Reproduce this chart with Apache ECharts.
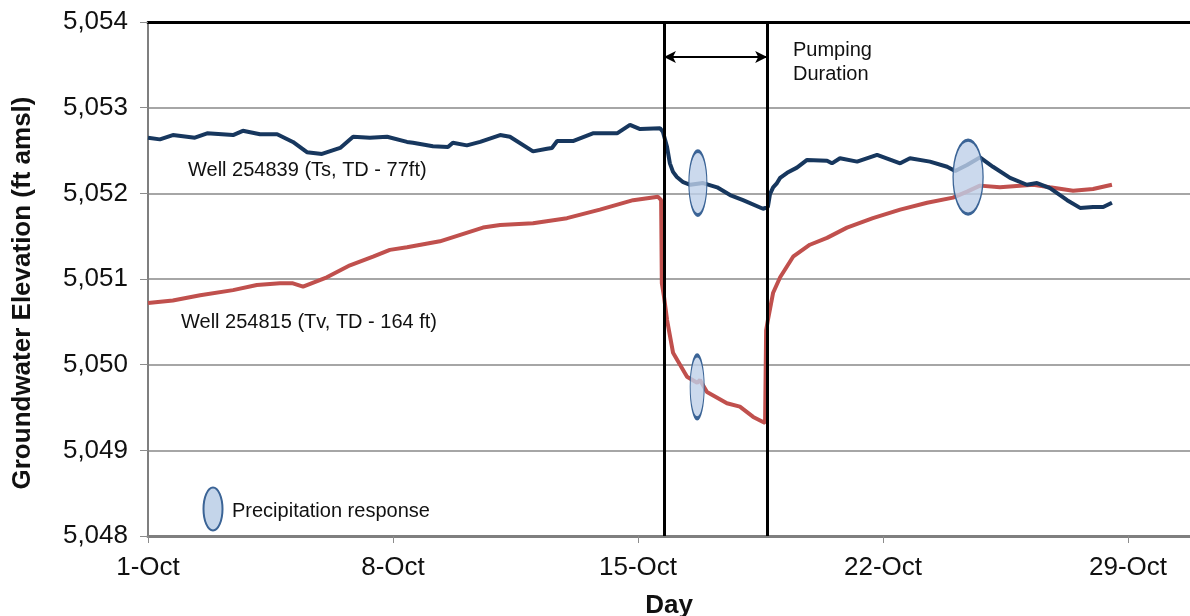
<!DOCTYPE html>
<html>
<head>
<meta charset="utf-8">
<script src="https://cdn.jsdelivr.net/npm/echarts@6/dist/echarts.min.js"></script>
<style>
  html, body { margin: 0; padding: 0; background: #fff; }
  #chart { width: 1190px; height: 616px; }
</style>
</head>
<body>
<div id="chart"></div>
<script>
// days counted from 1-Oct (0 = 1-Oct)
const dayTicks = ['1-Oct', '8-Oct', '15-Oct', '22-Oct', '29-Oct']

const blueDay = [0,0.34,0.71,1.34,1.69,2.43,2.71,3.2,3.69,4.14,4.54,4.97,5.49,5.86,6.34,6.83,7.4,7.57,8.14,8.57,8.71,9.11,9.49,10.06,10.34,11.0,11.4,11.54,11.69,12.14,12.71,13.4,13.77,14.06,14.63,14.71,14.83,14.91,15.0,15.11,15.29,15.49,15.86,16.26,16.63,17.0,17.57,17.71,17.77,17.86,17.97,18.06,18.26,18.54,18.83,19.4,19.54,19.77,20.26,20.83,21.49,21.77,22.34,22.83,23.06,23.4,23.77,24.14,24.63,25.11,25.4,25.77,26.26,26.63,27.0,27.29,27.54]
const blueLevel = [5052.65,5052.63,5052.68,5052.65,5052.70,5052.68,5052.73,5052.69,5052.69,5052.60,5052.48,5052.46,5052.53,5052.66,5052.65,5052.66,5052.60,5052.59,5052.55,5052.54,5052.59,5052.56,5052.60,5052.68,5052.66,5052.49,5052.52,5052.53,5052.61,5052.61,5052.70,5052.70,5052.80,5052.75,5052.76,5052.72,5052.54,5052.35,5052.25,5052.19,5052.13,5052.10,5052.12,5052.07,5051.98,5051.92,5051.82,5051.84,5051.99,5052.07,5052.12,5052.18,5052.24,5052.30,5052.39,5052.38,5052.35,5052.41,5052.37,5052.45,5052.35,5052.41,5052.37,5052.31,5052.26,5052.33,5052.42,5052.31,5052.18,5052.10,5052.12,5052.06,5051.92,5051.83,5051.84,5051.84,5051.89]

const redDay = [0,0.71,1.49,2.43,3.11,3.77,4.14,4.43,5.11,5.77,6.43,6.91,7.4,8.34,9.57,10.06,11.0,11.97,12.91,13.86,14.57,14.66,14.68,14.74,14.83,15.0,15.4,15.69,15.77,15.97,16.54,16.91,17.29,17.63,17.66,17.71,17.86,18.06,18.43,18.91,19.4,19.97,20.71,21.49,22.26,23.0,23.4,23.77,24.34,25.29,25.77,26.43,27.0,27.54]
const redLevel = [5050.72,5050.75,5050.81,5050.87,5050.93,5050.95,5050.95,5050.91,5051.02,5051.16,5051.26,5051.34,5051.37,5051.44,5051.60,5051.63,5051.65,5051.71,5051.81,5051.92,5051.96,5051.92,5050.95,5050.80,5050.52,5050.14,5049.86,5049.79,5049.82,5049.68,5049.55,5049.51,5049.39,5049.32,5050.40,5050.52,5050.84,5051.02,5051.26,5051.40,5051.48,5051.60,5051.71,5051.81,5051.89,5051.95,5052.02,5052.09,5052.07,5052.10,5052.07,5052.03,5052.05,5052.10]

const pumping = [14.74, 17.69]
const arrowLevel = 5053.59
// precipitation responses: [day, level, width px, height px]
const precip = [
  [15.71, 5052.12, 18, 64],
  [15.69, 5049.74, 14, 63],
  [23.43, 5052.19, 30, 74]
]

const FONT = '"Liberation Sans", Arial, sans-serif'
const ellipsePath = 'path://M50,0A50,50 0 1 1 50,100A50,50 0 1 1 50,0Z'

const chart = echarts.init(document.getElementById('chart'))

const options = {
  animation: false,
  grid: { left: 148, right: 0, top: 22, bottom: 80, containLabel: false, outerBoundsMode: 'none' },
  xAxis: [{
    type: 'value',
    min: 0,
    max: 29.77,
    interval: 7,
    name: 'Day',
    nameLocation: 'middle',
    nameGap: 57,
    nameTextStyle: { fontFamily: FONT, fontSize: 26, fontWeight: 'bold', color: '#111' },
    axisLine: { show: true, lineStyle: { color: '#7f7f7f', width: 3 } },
    axisTick: { show: true, length: 7, lineStyle: { color: '#8c8c8c', width: 1 } },
    axisLabel: {
      fontFamily: FONT, fontSize: 26, color: '#111', margin: 19,
      showMaxLabel: false,
      formatter: v => dayTicks[Math.round(v / 7)] || ''
    },
    splitLine: { show: false }
  }, {
    type: 'value',
    position: 'top',
    min: 0,
    max: 29.77,
    axisLine: { show: true, onZero: false, lineStyle: { color: '#000', width: 3 } },
    axisTick: { show: false },
    axisLabel: { show: false },
    splitLine: { show: false }
  }],
  yAxis: {
    type: 'value',
    min: 5048,
    max: 5054,
    interval: 1,
    name: 'Groundwater Elevation (ft amsl)',
    nameLocation: 'middle',
    nameGap: 112,
    nameTextStyle: { fontFamily: FONT, fontSize: 26, fontWeight: 'bold', color: '#111', padding: [0, 28, 0, 0] },
    axisLine: { show: true, lineStyle: { color: '#7f7f7f', width: 2 } },
    axisTick: { show: true, length: 8, lineStyle: { color: '#8c8c8c', width: 1 } },
    axisLabel: {
      fontFamily: FONT, fontSize: 26, color: '#111', margin: 20,
      formatter: v => String(v).replace(/(\d)(\d{3})$/, '$1,$2')
    },
    splitLine: { show: true, lineStyle: { color: '#a6a6a6', width: 2 } }
  },
  series: [
    {
      name: 'Well 254839',
      type: 'line',
      showSymbol: false,
      data: blueDay.map((d, i) => [d, blueLevel[i]]),
      lineStyle: { color: '#17375e', width: 4 },
      itemStyle: { color: '#17375e' },
      markLine: {
        silent: true,
        symbol: 'none',
        label: { show: false },
        lineStyle: { color: '#000', width: 3, type: 'solid' },
        data: pumping.map(d => ({ xAxis: d }))
      },
      z: 3
    },
    {
      name: 'Well 254815',
      type: 'line',
      showSymbol: false,
      data: redDay.map((d, i) => [d, redLevel[i]]),
      lineStyle: { color: '#c0504d', width: 4 },
      itemStyle: { color: '#c0504d' },
      markLine: {
        silent: true,
        symbol: ['arrow', 'arrow'],
        symbolSize: [9, 12],
        label: { show: false },
        lineStyle: { color: '#000', width: 2, type: 'solid' },
        data: [[{ coord: [pumping[0], arrowLevel] }, { coord: [pumping[1], arrowLevel] }]]
      },
      markPoint: {
        silent: true,
        symbol: ellipsePath,
        label: { show: false },
        itemStyle: { color: 'rgba(190,208,232,0.8)', borderColor: '#3b6496', borderWidth: 2 },
        data: precip.map(p => ({ coord: [p[0], p[1]], symbolSize: [p[2], p[3]] }))
      },
      z: 2
    }
  ],
  graphic: [
    {
      type: 'text', left: 188, top: 160,
      style: { text: 'Well 254839 (Ts, TD - 77ft)', font: '20px ' + FONT, fill: '#111' }
    },
    {
      type: 'text', left: 181, top: 312,
      style: { text: 'Well 254815 (Tv, TD - 164 ft)', font: '20px ' + FONT, fill: '#111' }
    },
    {
      type: 'text', left: 793, top: 38,
      style: { text: 'Pumping\nDuration', font: '20px ' + FONT, fill: '#111', lineHeight: 24 }
    },
    {
      type: 'ellipse',
      shape: { cx: 213, cy: 509, rx: 9.5, ry: 21.5 },
      style: { fill: 'rgba(190,208,232,0.9)', stroke: '#3b6496', lineWidth: 2 }
    },
    {
      type: 'text', left: 232, top: 501,
      style: { text: 'Precipitation response', font: '20px ' + FONT, fill: '#111' }
    }
  ]
}

chart.setOption(options)
window.addEventListener('resize', () => chart.resize())
</script>
</body>
</html>
